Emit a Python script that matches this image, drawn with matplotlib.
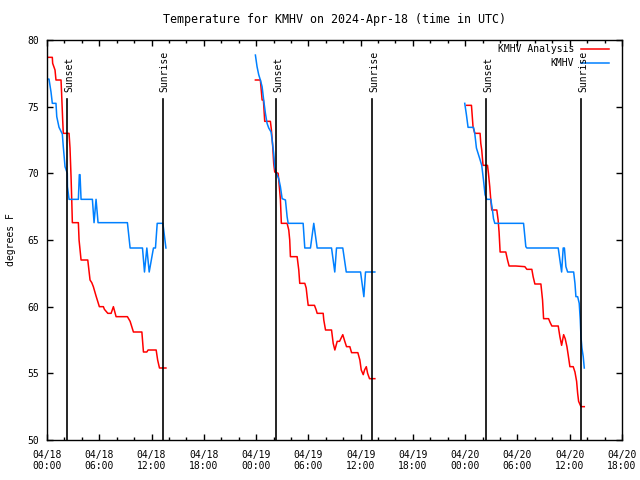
import matplotlib
matplotlib.use("Agg")
import matplotlib.pyplot as plt

# hours since 2024-04-18 00:00 UTC, temperature in F
# KMHV Analysis (red), one list per day
ana_h1 = [0.0, 0.61, 0.65, 0.92, 1.03, 1.61, 1.67, 1.8, 1.87, 2.53, 2.64, 2.76, 2.84, 2.91, 3.6,
          3.68, 3.91, 4.68, 4.94, 5.14, 5.32, 5.63, 6.01, 6.47, 6.59, 6.98, 7.36, 7.62, 7.93, 9.23,
          9.54, 9.92, 10.89, 11.07, 11.46, 11.6, 12.53, 12.7, 12.91, 13.65]
ana_t1 = [78.7, 78.7, 78.25, 77.75, 77.0, 77.0, 76.1, 74.0, 73.0, 73.0, 71.9, 69.75, 68.0, 66.3, 66.3,
          65.0, 63.5, 63.5, 62.0, 61.8, 61.5, 60.8, 60.0, 60.0, 59.8, 59.5, 59.5, 60.0, 59.25, 59.25,
          58.9, 58.1, 58.1, 56.6, 56.6, 56.75, 56.75, 56.0, 55.4, 55.4]
ana_h2 = [23.92, 24.49, 24.69, 24.84, 24.99, 25.64, 25.76, 25.91, 26.02, 26.14, 26.53, 26.6, 26.79,
          26.9, 27.56, 27.75, 27.86, 27.94, 28.71, 28.9, 29.01, 29.59, 29.75, 29.86, 29.98, 30.7,
          30.9, 31.01, 31.7, 31.77, 31.97, 32.66, 32.85, 33.04, 33.31, 33.58, 33.95, 34.18, 34.38,
          34.76, 34.96, 35.68, 35.91, 36.07, 36.3, 36.45, 36.65, 36.8, 37.02, 37.63]
ana_t2 = [77.0, 77.0, 75.5, 75.5, 73.9, 73.9, 73.25, 72.0, 70.75, 70.1, 70.0, 69.5, 68.05,
          66.25, 66.25, 65.75, 65.0, 63.75, 63.75, 62.75, 61.75, 61.75, 61.4, 60.75, 60.1, 60.1,
          59.75, 59.5, 59.5, 59.0, 58.25, 58.25, 57.25, 56.75, 57.4, 57.4, 57.9, 57.4, 57.0,
          57.0, 56.55, 56.55, 56.0, 55.25, 54.9, 55.25, 55.5, 55.0, 54.6, 54.6]
ana_h3 = [48.18, 48.72, 48.9, 49.1, 49.71, 49.79, 49.9, 50.05, 50.56, 50.67, 50.82, 50.94, 51.05,
          51.63, 51.78, 51.89, 52.01, 52.66, 52.86, 53.04, 53.81, 54.85, 55.08, 55.65, 55.8, 56.0,
          56.69, 56.88, 57.0, 57.57, 57.76, 57.95, 58.68, 58.87, 59.07, 59.3, 59.48, 59.68, 59.82,
          60.02, 60.4, 60.6, 60.79, 60.91, 61.02, 61.29, 61.67]
ana_t3 = [75.1, 75.1, 73.5, 73.0, 73.0, 72.25, 71.75, 70.6, 70.6, 70.0, 69.0, 68.0, 67.25,
          67.25, 66.5, 65.6, 64.1, 64.1, 63.5, 63.05, 63.05, 63.0, 62.8, 62.8, 62.25, 61.7,
          61.7, 60.5, 59.1, 59.1, 58.8, 58.55, 58.55, 57.75, 57.1, 57.9, 57.6, 57.0, 56.4,
          55.5, 55.5, 55.1, 54.4, 53.5, 52.9, 52.5, 52.5]

# KMHV observations (blue)
obs_h1 = [0.0, 0.23, 0.46, 0.61, 1.03, 1.12, 1.38, 1.76, 1.87, 2.07, 2.33, 2.35, 2.53, 3.6, 3.71,
          3.79, 3.91, 5.21, 5.4, 5.63, 5.86, 9.23, 9.54, 10.96, 11.19, 11.46, 11.73, 12.22, 12.45,
          12.65, 13.3, 13.65]
obs_t1 = [77.07, 77.07, 76.1, 75.25, 75.25, 74.25, 73.45, 72.95, 72.0, 70.5, 70.0, 69.0, 68.05, 68.05, 69.9,
          69.9, 68.05, 68.05, 66.3, 68.05, 66.3, 66.3, 64.4, 64.4, 62.6, 64.4, 62.6, 64.4, 64.4,
          66.25, 66.25, 64.4]
obs_h2 = [23.92, 24.11, 24.3, 24.49, 24.69, 24.87, 25.07, 25.26, 25.45, 25.72, 25.84, 26.02, 26.14,
          26.33, 26.6, 26.79, 26.99, 27.37, 27.56, 27.68, 29.4, 29.59, 30.24, 30.62, 31.01, 32.66,
          33.03, 33.23, 33.95, 34.35, 35.99, 36.37, 36.56, 37.63]
obs_t2 = [78.87, 78.0, 77.4, 77.0, 76.5, 75.5, 74.5, 73.75, 73.4, 73.1, 72.5, 71.5, 70.5,
          70.0, 69.6, 69.0, 68.1, 68.0, 66.75, 66.25, 66.25, 64.4, 64.4, 66.25, 64.4, 64.4,
          62.6, 64.4, 64.4, 62.6, 62.6, 60.75, 62.6, 62.6]
obs_h3 = [47.95, 48.14, 48.33, 48.95, 49.1, 49.29, 49.48, 49.67, 49.9, 50.1, 50.28, 50.48, 50.94,
          51.13, 51.25, 51.4, 54.7, 54.85, 54.96, 55.08, 58.68, 58.87, 59.07, 59.25, 59.39, 59.56,
          59.76, 60.45, 60.6, 60.71, 60.91, 61.09, 61.21, 61.29, 61.4, 61.55, 61.67]
obs_t3 = [75.25, 74.4, 73.45, 73.45, 73.0, 71.9, 71.5, 71.1, 70.6, 69.5, 68.4, 68.05, 68.05,
          67.25, 66.6, 66.25, 66.25, 65.25, 64.5, 64.4, 64.4, 63.5, 62.6, 64.4, 64.4, 63.0,
          62.6, 62.6, 61.75, 60.75, 60.75, 60.25, 59.0, 57.75, 56.9, 56.25, 55.4]

sunset_h = [2.34, 26.33, 50.38]
sunrise_h = [13.28, 37.3, 61.3]

tick_h = [0, 6, 12, 18, 24, 30, 36, 42, 48, 54, 60, 66]
tick_labels = ["04/18\n00:00", "04/18\n06:00", "04/18\n12:00", "04/18\n18:00",
               "04/19\n00:00", "04/19\n06:00", "04/19\n12:00", "04/19\n18:00",
               "04/20\n00:00", "04/20\n06:00", "04/20\n12:00", "04/20\n18:00"]

plt.rcParams['font.family'] = ['DejaVu Sans Mono']
plt.rcParams['font.size'] = 7

fig = plt.figure(figsize=(6.4, 4.8), dpi=100)
ax = fig.add_axes([47 / 640, 40 / 480, 575 / 640, 400 / 480])

red = '#ff0000'
blue = '#0080ff'
for h, t in [(ana_h1, ana_t1), (ana_h2, ana_t2), (ana_h3, ana_t3)]:
    ax.plot(h, t, color=red, lw=1.1)
for h, t in [(obs_h1, obs_t1), (obs_h2, obs_t2), (obs_h3, obs_t3)]:
    ax.plot(h, t, color=blue, lw=1.1)

for x in sunset_h:
    ax.plot([x, x], [50, 75.55], color='black', lw=1.2)
    ax.text(x + 0.25, 76.1, 'Sunset', rotation=90, ha='center', va='bottom')
for x in sunrise_h:
    ax.plot([x, x], [50, 75.55], color='black', lw=1.2)
    ax.text(x + 0.25, 76.1, 'Sunrise', rotation=90, ha='center', va='bottom')

# legend drawn by hand so the labels line up on the right
ax.text(0.9165, 0.9775, 'KMHV Analysis', transform=ax.transAxes, ha='right', va='center')
ax.text(0.9165, 0.9425, 'KMHV', transform=ax.transAxes, ha='right', va='center')
ax.plot([0.929, 0.977], [0.9775, 0.9775], color=red, lw=1.1, transform=ax.transAxes)
ax.plot([0.929, 0.977], [0.9425, 0.9425], color=blue, lw=1.1, transform=ax.transAxes)

ax.set_xlim(0, 66)
ax.set_ylim(50, 80)
ax.set_xticks(tick_h)
ax.set_xticklabels(tick_labels)
ax.set_xticks(range(0, 67, 2), minor=True)
ax.set_yticks(range(50, 81, 5))
ax.tick_params(which='both', direction='in', top=True, right=True, width=1)
ax.tick_params(which='major', length=4)
ax.tick_params(which='minor', length=2)
ax.tick_params(axis='x', pad=7)
ax.tick_params(axis='y', pad=6)
for s in ax.spines.values():
    s.set_linewidth(1)

ax.set_ylabel('degrees F', labelpad=8)
ax.set_title('Temperature for KMHV on 2024-Apr-18 (time in UTC)', pad=12)

fig.savefig('out.png', dpi=100)
